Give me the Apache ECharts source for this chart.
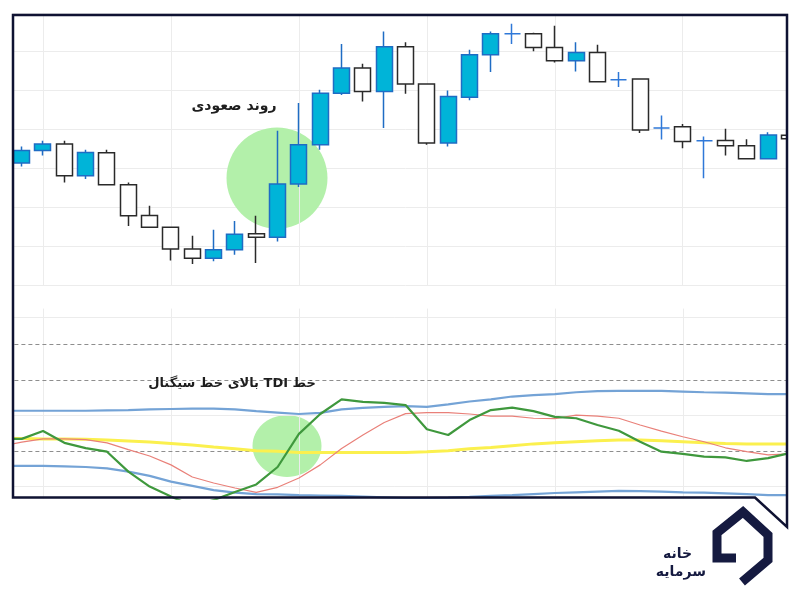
<!DOCTYPE html>
<html><head><meta charset="utf-8">
<script src="https://cdn.jsdelivr.net/npm/echarts@6/dist/echarts.min.js"></script>
<style>html,body{margin:0;padding:0;background:#fff}#c{width:800px;height:600px}</style>
</head><body><div id="c"></div>
<script>
// candles (37 bars, the last one cut by the right edge of the frame)
const categories = ['1','2','3','4','5','6','7','8','9','10','11','12','13','14','15','16','17','18','19','20','21','22','23','24','25','26','27','28','29','30','31','32','33','34','35','36','37'];
const opens  = [41.4,44.6,46.3,38.1,44.0,35.8,27.9,24.9,19.3,16.9,19.1,23.2,22.3,36.0,46.1,59.3,65.8,59.8,71.3,61.7,46.5,58.3,69.2,74.6,74.6,71.1,67.7,69.8,62.8,63.0,50.4,50.7,47.1,47.2,45.8,42.5,48.5];
const closes = [44.6,46.3,38.1,44.1,35.8,27.8,24.9,19.3,16.9,19.1,23.1,22.3,36.0,46.1,59.3,65.8,59.8,71.3,61.7,46.5,58.5,69.2,74.6,74.6,71.1,67.7,69.8,62.3,62.8,49.9,50.4,46.9,47.1,45.8,42.5,48.6,47.6];
const lows   = [40.5,43.3,36.4,37.3,35.8,25.2,24.9,16.3,15.4,16.1,17.8,15.7,21.2,35.2,44.8,58.9,57.2,50.4,59.2,46.1,45.6,57.5,64.8,72.0,70.1,67.2,64.9,62.3,60.9,49.1,47.4,45.2,37.5,43.3,42.5,42.5,47.6];
const highs  = [45.6,47.1,47.1,44.8,44.8,36.4,30.4,24.9,22.7,24.2,26.5,27.8,49.7,56.8,60.2,72.0,66.9,75.2,72.4,61.7,60.0,70.5,75.2,77.2,74.9,76.7,72.4,71.8,64.8,63.0,53.6,51.4,48.2,50.2,47.5,49.3,53.0];

// TDI panel: first point is the value at the left edge of the frame, then one value per candle
const tdiCategories = ['0'].concat(categories);
const rsiLine    = [53.4,53.4,55.6,52.3,50.8,49.8,44.2,40.0,37.2,34.6,36.2,38.5,40.6,45.5,54.8,60.4,64.5,63.8,63.5,62.9,56.1,54.5,58.7,61.5,62.2,61.2,59.6,59.2,57.3,55.7,52.6,49.8,49.2,48.4,48.2,47.2,48.0,49.4];
const signalLine = [51.3,52.5,53.4,53.4,53.2,52.3,50.4,48.6,46.1,42.7,41.0,39.6,38.4,39.8,42.4,46.1,50.7,54.5,58.0,60.5,60.8,60.8,60.4,59.8,59.8,59.2,59.1,60.1,59.8,59.2,57.3,55.6,54.0,52.6,50.9,49.8,48.9,49.2];
const baseLine   = [53.6,53.5,53.4,53.4,53.3,53.1,52.8,52.5,52.1,51.7,51.1,50.6,50.1,49.9,49.6,49.6,49.6,49.6,49.6,49.6,49.8,50.1,50.6,51.0,51.5,52.0,52.3,52.6,52.9,53.1,53.1,52.9,52.6,52.3,52.1,52.0,52.0,52.0];
const upperBand  = [61.3,61.3,61.3,61.3,61.3,61.4,61.5,61.7,61.8,61.9,61.9,61.7,61.2,60.8,60.4,60.7,61.7,62.1,62.4,62.6,62.4,63.1,63.9,64.5,65.3,65.7,66.0,66.5,66.8,66.9,66.9,66.9,66.7,66.5,66.4,66.2,66.0,66.0];
const lowerBand  = [45.8,45.8,45.8,45.7,45.5,45.1,44.2,43.0,41.4,40.2,39.0,38.3,37.9,37.8,37.6,37.5,37.4,37.2,37.0,36.8,36.8,36.9,37.1,37.4,37.6,37.9,38.2,38.4,38.6,38.8,38.7,38.6,38.4,38.3,38.1,37.9,37.6,37.6];

const verticalGridCandles = [1, 7, 13, 19, 25, 31];
const dashedLevels = [80, 70, 50];
const faintLevels = [87.7, 60, 40];

const annotationTrend = 'روند صعودی';
const annotationTdi = '\u202Bخط TDI بالای خط سیگنال\u202C';
const logoLine1 = 'خانه';
const logoLine2 = 'سرمایه';

const candleData = categories.map((c, i) => [opens[i], closes[i], lows[i], highs[i]]);

const chart = echarts.init(document.getElementById('c'), null, {renderer: 'canvas'});
const gridColor = '#ececec';
const navy = '#0f1232';
const hiddenAxis = {axisLine: {show: false}, axisTick: {show: false}, axisLabel: {show: false}, splitLine: {show: false}};

chart.setOption({
  animation: false,
  backgroundColor: '#ffffff',
  grid: [
    {left: 11, width: 789, top: 12.8, height: 272.3},
    {left: 0.4, width: 789, top: 308.6, height: 190.1}
  ],
  xAxis: [
    Object.assign({type: 'category', data: categories, gridIndex: 0, boundaryGap: true}, hiddenAxis),
    Object.assign({type: 'category', data: tdiCategories, gridIndex: 1, boundaryGap: false}, hiddenAxis)
  ],
  yAxis: [
    {type: 'value', gridIndex: 0, min: 10, max: 80, interval: 10,
     axisLine: {show: false}, axisTick: {show: false}, axisLabel: {show: false},
     splitLine: {show: true, lineStyle: {color: gridColor, width: 1}}},
    Object.assign({type: 'value', gridIndex: 1, min: 36.6, max: 90}, hiddenAxis)
  ],
  series: [
    {type: 'line', xAxisIndex: 0, yAxisIndex: 0, data: [], z: 0, silent: true,
     markLine: {silent: true, symbol: 'none', label: {show: false}, animation: false,
       lineStyle: {color: gridColor, type: 'solid', width: 1},
       data: verticalGridCandles.map(i => ({xAxis: i}))}},
    {type: 'line', xAxisIndex: 1, yAxisIndex: 1, data: [], z: 0, silent: true,
     markLine: {silent: true, symbol: 'none', label: {show: false}, animation: false,
       data: verticalGridCandles.map(i => ({xAxis: i + 1, lineStyle: {color: gridColor, type: 'solid', width: 1}}))
         .concat(faintLevels.map(v => ({yAxis: v, lineStyle: {color: gridColor, type: 'solid', width: 1}})))
         .concat(dashedLevels.map(v => ({yAxis: v, lineStyle: {color: '#8e8e8e', type: [4, 3], width: 1}})))}},
    {type: 'candlestick', xAxisIndex: 0, yAxisIndex: 0, data: candleData, barWidth: 16.5, z: 5,
     itemStyle: {color: '#00b4d8', color0: '#ffffff', borderColor: '#1f6cc4', borderColor0: '#2a2a2a',
       borderColorDoji: '#2f78d8', borderWidth: 1.5}},
    {type: 'line', xAxisIndex: 1, yAxisIndex: 1, data: upperBand, symbol: 'none', z: 5,
     lineStyle: {color: '#74a3d6', width: 2.2}},
    {type: 'line', xAxisIndex: 1, yAxisIndex: 1, data: lowerBand, symbol: 'none', z: 5,
     lineStyle: {color: '#74a3d6', width: 2.2}},
    {type: 'line', xAxisIndex: 1, yAxisIndex: 1, data: baseLine, symbol: 'none', z: 5,
     lineStyle: {color: '#fbf04e', width: 3}},
    {type: 'line', xAxisIndex: 1, yAxisIndex: 1, data: signalLine, symbol: 'none', z: 6,
     lineStyle: {color: '#e98079', width: 1.2}},
    {type: 'line', xAxisIndex: 1, yAxisIndex: 1, data: rsiLine, symbol: 'none', z: 7,
     lineStyle: {color: '#3f983d', width: 2.2}}
  ],
  graphic: [
    {type: 'circle', z: 1, silent: true, shape: {cx: 277, cy: 178, r: 50.5}, style: {fill: '#b3f0aa'}},
    {type: 'ellipse', z: 1, silent: true, shape: {cx: 287, cy: 446, rx: 34.5, ry: 31}, style: {fill: '#b3f0aa'}},
    {type: 'text', z: 50, x: 234, y: 106, style: {text: annotationTrend, font: 'bold 14px "DejaVu Sans"', fill: '#1e1e1e', align: 'center', verticalAlign: 'middle'}},
    {type: 'text', z: 50, x: 232, y: 383.5, style: {text: annotationTdi, font: 'bold 13px "DejaVu Sans"', fill: '#1e1e1e', align: 'center', verticalAlign: 'middle'}},
    {type: 'rect', z: 90, silent: true, shape: {x: 0, y: 0, width: 12.5, height: 600}, style: {fill: '#ffffff'}},
    {type: 'rect', z: 90, silent: true, shape: {x: 788, y: 0, width: 12, height: 600}, style: {fill: '#ffffff'}},
    {type: 'polygon', z: 95, silent: true, shape: {points: [[13, 15], [787, 15], [787, 527], [755, 497.5], [13, 497.5]]},
     style: {fill: null, stroke: navy, lineWidth: 2.5}},
    {type: 'polyline', z: 95, silent: true,
     shape: {points: [[736, 558], [717, 558], [717, 533], [743, 512], [768, 535], [768, 560], [742, 582]]},
     style: {stroke: '#151a40', lineWidth: 9, lineJoin: 'miter', fill: null}},
    {type: 'text', z: 95, x: 692, y: 554, style: {text: logoLine1, font: 'bold 14px "DejaVu Sans"', fill: '#151a40', align: 'right', verticalAlign: 'middle'}},
    {type: 'text', z: 95, x: 706, y: 572, style: {text: logoLine2, font: 'bold 14px "DejaVu Sans"', fill: '#151a40', align: 'right', verticalAlign: 'middle'}}
  ]
});
</script>
</body></html>
